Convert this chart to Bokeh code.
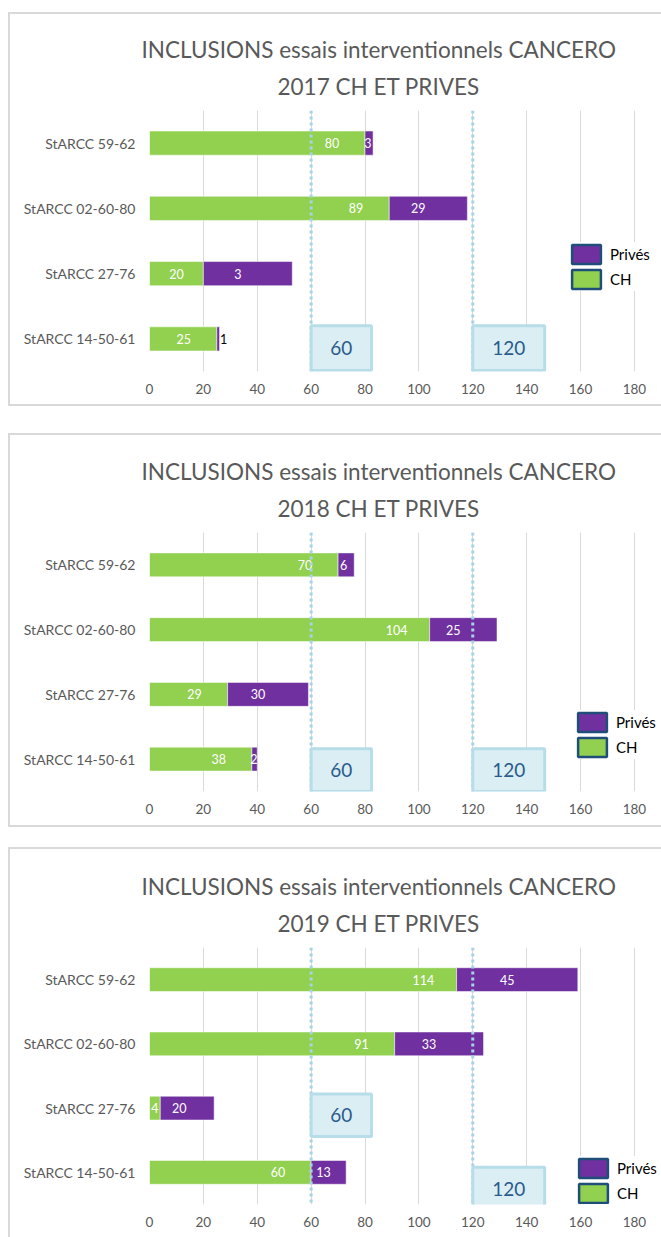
from bokeh.plotting import figure
from bokeh.models import (Range1d, FixedTicker, Span, BoxAnnotation, Label, Legend,
                          LegendItem, ColumnDataSource, Title)
from bokeh.layouts import column
from bokeh.embed import file_html
from bokeh.resources import INLINE
from bokeh.core.properties import value

# ---------------- data ----------------
categories = ["StARCC 59-62", "StARCC 02-60-80", "StARCC 27-76", "StARCC 14-50-61"]
years = ["2017", "2018", "2019"]

ch_2017 = [80, 89, 20, 25]
prives_2017 = [3, 29, 33, 1]
prives_labels_2017 = ["3", "29", "3", "1"]

ch_2018 = [70, 104, 29, 38]
prives_2018 = [6, 25, 30, 2]
prives_labels_2018 = ["6", "25", "30", "2"]

ch_2019 = [114, 91, 4, 60]
prives_2019 = [45, 33, 20, 13]
prives_labels_2019 = ["45", "33", "20", "13"]

x_ticks = [0, 20, 40, 60, 80, 100, 120, 140, 160, 180]
thresholds = [60, 120]
series_names = ["Privés", "CH"]
title_line1 = "INCLUSIONS essais interventionnels CANCERO"

# ---------------- style ----------------
GREEN = "#92d050"
PURPLE = "#7030a0"
GRID = "#d9d9d9"
GRAY_TEXT = "#595959"
SPAN_COLOR = "#a6d3e8"
BOX_FILL = "#dbeef4"
BOX_LINE = "#b7dde8"
BOX_TEXT = "#2b5b8c"
LEG_LINE = "#1f4e79"
FONT = "Lato"

OUTER_W = 653                 # includes 2px left border (border-box)
CANVAS_W = OUTER_W - 2
MBL = 139
FRAME_W_180 = 483             # pixels spanned by 0..180
X_MAX = 180
PX = FRAME_W_180 / X_MAX
X_END = (CANVAS_W - MBL) / PX  # frame runs to canvas edge


def make_panel(year, ch, pv, pv_labels, g):
    p = figure(
        y_range=list(reversed(categories)),
        x_range=Range1d(0, X_END),
        width=OUTER_W, height=g["mbt"] + g["fh"] + g["mbb"] + g["bh"],
        min_border_left=MBL, min_border_right=0,
        min_border_top=g["mbt"], min_border_bottom=g["mbb"],
        output_backend="svg", toolbar_location=None,
        background_fill_color="white", border_fill_color="white",
        margin=(g["margin_top"], 0, 0, 8),
        styles=g["styles"],
    )
    p.outline_line_color = None
    p.ygrid.grid_line_color = None
    p.xgrid.grid_line_color = GRID
    p.xgrid.grid_line_width = 1
    p.xgrid.ticker = FixedTicker(ticks=x_ticks)
    p.xaxis.ticker = FixedTicker(ticks=x_ticks)

    for ax in (p.xaxis[0], p.yaxis[0]):
        ax.axis_line_color = None
        ax.major_tick_line_color = None
        ax.minor_tick_line_color = None
        ax.major_tick_out = 0
        ax.major_tick_in = 0
        ax.major_label_text_color = GRAY_TEXT
        ax.major_label_text_font = FONT
    p.xaxis.major_label_text_font_size = "13.5px"
    p.xaxis.major_label_standoff = 12
    p.yaxis.major_label_text_font_size = "14px"
    p.yaxis.major_label_standoff = 14

    end = [c + v for c, v in zip(ch, pv)]
    src = ColumnDataSource(dict(cat=categories, ch=ch, end=end))
    p.hbar(y="cat", left=0, right="ch", height=0.37, source=src,
           fill_color=GREEN, line_color="white", line_alpha=0.5, line_width=1)
    p.hbar(y="cat", left="ch", right="end", height=0.37, source=src,
           fill_color=PURPLE, line_color="white", line_alpha=0.5, line_width=1)

    # data labels
    gx = [max(c - 33 / PX, c / 2) for c in ch]
    px_, pcol = [], []
    for c, v in zip(ch, pv):
        seg = v * PX
        if seg < 5:
            px_.append(c + v + 4 / PX)
            pcol.append("black")
        else:
            px_.append(c + v / 2 - min(10, 0.15 * seg) / PX)
            pcol.append("white")
    lab = ColumnDataSource(dict(
        x=gx + px_, cat=categories + categories,
        text=[str(c) for c in ch] + list(pv_labels),
        color=["white"] * len(ch) + pcol))
    p.text(x="x", y="cat", text="text", source=lab, text_color="color",
           text_align="center", text_baseline="middle",
           text_font=value(FONT), text_font_size="12.5px")

    # threshold dotted lines
    for t in thresholds:
        p.add_layout(Span(location=t, dimension="height", line_color=SPAN_COLOR,
                          line_width=3, line_dash="3 3"))

    # threshold boxes
    for t, (bl, bt) in zip(thresholds, g["boxes"]):
        right = t + (22.4 if t == 60 else 26.7)
        p.add_layout(BoxAnnotation(left=t, right=right, bottom=bl, top=bt,
                                   fill_color=BOX_FILL, fill_alpha=1,
                                   line_color=BOX_LINE, line_width=3, line_alpha=1))
        p.add_layout(Label(x=(t + right) / 2, y=(bl + bt) / 2, text=str(t),
                           text_align="center", text_baseline="middle",
                           text_font=FONT, text_font_size="19px", text_color=BOX_TEXT))

    # titles (two lines, stacked above the frame)
    t2 = Title(text=f"{year} CH ET PRIVES", align="left", offset=128,
               vertical_align="top",
               text_font=FONT, text_font_size="22.5px", text_font_style="normal",
               text_color=GRAY_TEXT, standoff=17)
    t1 = Title(text=title_line1, align="left", offset=-8,
               vertical_align="top",
               text_font=FONT, text_font_size="22.5px", text_font_style="normal",
               text_color=GRAY_TEXT, standoff=0)
    p.add_layout(t2, "above")
    p.add_layout(t1, "above")

    # legend (invisible renderers provide the bordered swatches)
    nan = float("nan")
    r_p = p.rect(x=[nan], y=[categories[0]], width=1, height=1, fill_color=PURPLE,
                 line_color=LEG_LINE, line_width=2.5)
    r_c = p.rect(x=[nan], y=[categories[0]], width=1, height=1, fill_color=GREEN,
                 line_color=LEG_LINE, line_width=2.5)
    leg = Legend(items=[LegendItem(label=series_names[0], renderers=[r_p]),
                        LegendItem(label=series_names[1], renderers=[r_c])],
                 location=g["legend"], orientation="vertical",
                 glyph_width=36, glyph_height=24, label_height=24,
                 label_standoff=6, spacing=1, padding=2, margin=0,
                 border_line_color=None, background_fill_color="white",
                 background_fill_alpha=1,
                 label_text_font=FONT, label_text_font_size="15px",
                 label_text_color="black")
    p.add_layout(leg, "center")
    return p


B = "2px solid #d9d9d9"
border_all = {"border-left": B, "border-top": B, "border-bottom": B}
border_nobottom = {"border-left": B, "border-top": B}

g1 = dict(margin_top=12, mbt=96, fh=257, mbb=37, bh=4, styles=border_all,
          legend=(419, 80), boxes=[(0.016, 0.70), (0.016, 0.70)])
g2 = dict(margin_top=27, mbt=97, fh=255, mbb=38, bh=4, styles=border_all,
          legend=(425, 32), boxes=[(0.0, 0.66), (0.0, 0.66)])
g3 = dict(margin_top=20, mbt=98, fh=255, mbb=35, bh=2, styles=border_nobottom,
          legend=(426, -1), boxes=[(1.06, 1.72), (-0.09, 0.58)])

p1 = make_panel(years[0], ch_2017, prives_2017, prives_labels_2017, g1)
p2 = make_panel(years[1], ch_2018, prives_2018, prives_labels_2018, g2)
p3 = make_panel(years[2], ch_2019, prives_2019, prives_labels_2019, g3)

layout = column(p1, p2, p3, spacing=0)
open("out.html", "w").write(file_html(layout, INLINE))
